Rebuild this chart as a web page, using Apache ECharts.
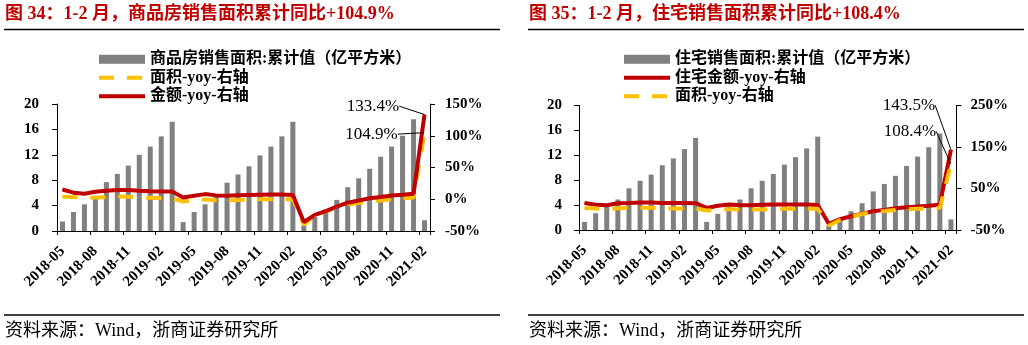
<!DOCTYPE html>
<html><head><meta charset="utf-8">
<script src="https://cdn.jsdelivr.net/npm/echarts@6/dist/echarts.min.js"></script>
<style>html,body{margin:0;padding:0;background:#fff}#c{width:1028px;height:345px}</style>
</head><body><div id="c"></div>
<script>
// ---------- data ----------
const categories = ['2018-05','2018-06','2018-07','2018-08','2018-09','2018-10','2018-11','2018-12',
  '2019-01','2019-02','2019-03','2019-04','2019-05','2019-06','2019-07','2019-08','2019-09','2019-10','2019-11','2019-12',
  '2020-01','2020-02','2020-03','2020-04','2020-05','2020-06','2020-07','2020-08','2020-09','2020-10','2020-11','2020-12',
  '2021-01','2021-02'];

// chart 34: commodity housing
const c34Title = '图 34：1-2 月，商品房销售面积累计同比+104.9%';
const c34BarName = '商品房销售面积:累计值（亿平方米）';
const c34AreaName = '面积-yoy-右轴';
const c34AmtName = '金额-yoy-右轴';
const c34Area = [1.5,3.0,4.2,5.5,7.7,9.0,10.3,12.0,13.3,14.9,17.2,
  1.4,3.0,4.2,5.5,7.6,8.9,10.2,11.9,13.3,14.9,17.2,
  0.85,2.2,3.4,4.9,6.9,8.3,9.8,11.7,13.3,15.0,17.6,
  1.7];
const c34AreaYoy = [4.1,3.6,1.3,2.9,3.3,4.2,4.0,2.9,2.2,1.4,1.3,
  -3.6,-0.9,-0.3,-1.6,-1.8,-1.3,-0.6,-0.1,0.1,0.2,-0.1,
  -39.9,-26.3,-19.3,-12.3,-8.4,-5.8,-3.3,-1.8,0.0,1.3,2.6,
  104.9];
const c34AmtYoy = [15.3,10.4,8.6,11.8,13.2,14.5,14.5,13.3,12.5,12.1,12.2,
  2.8,5.6,8.1,6.1,5.6,6.2,6.7,7.1,7.3,7.3,6.5,
  -35.9,-24.7,-18.6,-11.6,-5.4,-2.1,1.6,3.7,5.8,7.2,8.7,
  133.4];

// chart 35: residential
const c35Title = '图 35：1-2 月，住宅销售面积累计同比+108.4%';
const c35BarName = '住宅销售面积:累计值（亿平方米）';
const c35AmtName = '住宅金额-yoy-右轴';
const c35AreaName = '面积-yoy-右轴 ';
const c35Area = [1.3,2.7,3.8,4.9,6.7,7.9,8.9,10.4,11.5,13.0,14.8,
  1.3,2.6,3.8,4.9,6.7,7.9,9.0,10.5,11.7,13.1,15.0,
  0.75,1.9,3.0,4.3,6.2,7.4,8.7,10.3,11.8,13.3,15.5,
  1.7];
const c35AreaYoy = [2.9,1.9,0.5,2.4,3.0,3.8,3.6,2.4,2.0,1.5,2.2,
  -3.2,-0.6,0.3,-0.5,-0.9,-0.5,0.2,1.0,1.2,1.3,1.5,
  -39.2,-25.9,-18.3,-11.4,-6.8,-4.4,-2.0,-0.4,1.3,2.7,3.2,
  108.4];
const c35AmtYoy = [14.9,10.8,9.8,14.5,15.3,16.5,16.2,15.3,15.1,14.9,14.7,
  3.2,8.5,11.7,9.4,9.8,10.6,11.3,11.7,11.4,11.6,10.3,
  -34.9,-24.0,-17.0,-10.6,-4.8,-1.5,2.2,4.8,6.8,8.3,10.8,
  143.5];

const sourceText = '资料来源：Wind，浙商证券研究所';
const leftTicks34 = {min:0,max:20,interval:4};
const rightTicks34 = {min:-50,max:150,interval:50};
const leftTicks35 = {min:0,max:20,interval:4};
const rightTicks35 = {min:-50,max:250,interval:100};

// ---------- styles ----------
const FONT = '"Liberation Serif","Noto Sans CJK SC",serif';
const RED = '#C00000', YEL = '#FFC000', GRAY = '#808080', TITLE = '#C00000';

function lastLabel(arr){
  return arr.map((v,i)=> i===arr.length-1 ? {value:v, label:{show:true}} : v);
}
function axisCommon(){
  return {
    axisLine:{show:true,lineStyle:{color:'#000',width:1}},
    axisTick:{show:true,length:5,lineStyle:{color:'#000'}},
    splitLine:{show:false},
    axisLabel:{color:'#000',fontWeight:'bold',fontSize:15,fontFamily:FONT}
  };
}
function yAx(grid, pos, t, pct, margin){
  const a = axisCommon();
  a.axisLabel.margin = margin;
  if (pct) a.axisLabel.formatter = '{value}%';
  return Object.assign({type:'value',gridIndex:grid,position:pos,min:t.min,max:t.max,interval:t.interval}, a);
}
function xAx(grid, rot, margin){
  return {type:'category',gridIndex:grid,data:categories,boundaryGap:true,
    axisLine:{show:true,onZero:false,lineStyle:{color:'#000',width:1}},
    axisTick:{show:true,interval:2,length:4,lineStyle:{color:'#000'}},
    axisLabel:{interval:2,rotate:rot,margin:margin,color:'#000',fontWeight:'bold',fontSize:15,fontFamily:FONT}};
}
const annLabel = {show:false,position:'inside',formatter:p=>p.value+'%',color:'#000',fontSize:17,fontFamily:FONT};
function lineSeries(name, data, color, dashed, grid, lay){
  return {type:'line',name, data:lastLabel(data), xAxisIndex:grid, yAxisIndex:grid*2+1,
    symbol:'circle', symbolSize:1, showSymbol:true, showAllSymbol:true, z:3,
    lineStyle:{color, width:4, type: dashed ? [15,13] : 'solid', cap:'butt'},
    itemStyle:{color},
    label:annLabel,
    labelLayout:lay,
    labelLine:{show:true,lineStyle:{color:'#000',width:1}}};
}
function barSeries(name, data, grid){
  return {type:'bar',name,data,xAxisIndex:grid,yAxisIndex:grid*2,barWidth:5,
    itemStyle:{color:GRAY},z:2};
}
const hiddenSym = {color:'rgba(0,0,0,0)',opacity:0,borderWidth:0};
function legend(x, names){
  return {orient:'vertical',left:x,top:50,padding:0,itemWidth:46,itemHeight:9,itemGap:0,
    textStyle:{color:'#000',fontWeight:'bold',fontSize:16,fontFamily:FONT,lineHeight:18.5},
    lineStyle:{width:4},
    data:[{name:names[0],icon:'rect'},{name:names[1],itemStyle:hiddenSym},{name:names[2],itemStyle:hiddenSym}]};
}
function txt(x,y,text,size,weight,color){
  return {type:'text',x,y,style:{text,font:weight+' '+size+'px '+FONT,fill:color,textVerticalAlign:'middle'}};
}
function hline(x1,x2,y){
  return {type:'line',shape:{x1,y1:y,x2,y2:y},style:{stroke:'#000',lineWidth:1.3}};
}

const option = {
  animation:false,
  backgroundColor:'#fff',
  grid:[{left:57,top:104,width:373,height:127},{left:579,top:105.5,width:377.5,height:124.5}],
  xAxis:[xAx(0,45,18),xAx(1,45,18)],
  yAxis:[yAx(0,'left',leftTicks34,false,18),yAx(0,'right',rightTicks34,true,15),
         yAx(1,'left',leftTicks35,false,17),yAx(1,'right',rightTicks35,true,14)],
  legend:[legend(97,[c34BarName,c34AreaName,c34AmtName]),legend(622,[c35BarName,c35AmtName,c35AreaName])],
  series:[
    barSeries(c34BarName,c34Area,0),
    lineSeries(c34AreaName,c34AreaYoy,YEL,true,0,{dx:-53,dy:1.5}),
    lineSeries(c34AmtName,c34AmtYoy,RED,false,0,{dx:-51.5,dy:-8.4}),
    barSeries(c35BarName,c35Area,1),
    lineSeries(c35AmtName,c35AmtYoy,RED,false,1,{dx:-42,dy:-44.5}),
    lineSeries(c35AreaName,c35AreaYoy,YEL,true,1,{dx:-41,dy:-33})
  ],
  graphic:[
    txt(5,14.5,c34Title,18,'bold',TITLE),
    txt(529,14.5,c35Title,18,'bold',TITLE),
    hline(4,500,29.5), hline(528,1024,29.5),
    hline(4,500,315), hline(528,1024,315),
    txt(5,331.5,sourceText,18,'normal','#000'),
    txt(529,331.5,sourceText,18,'normal','#000')
  ]
};
const chart = echarts.init(document.getElementById('c'),null,{renderer:'canvas'});
chart.setOption(option);
</script></body></html>
